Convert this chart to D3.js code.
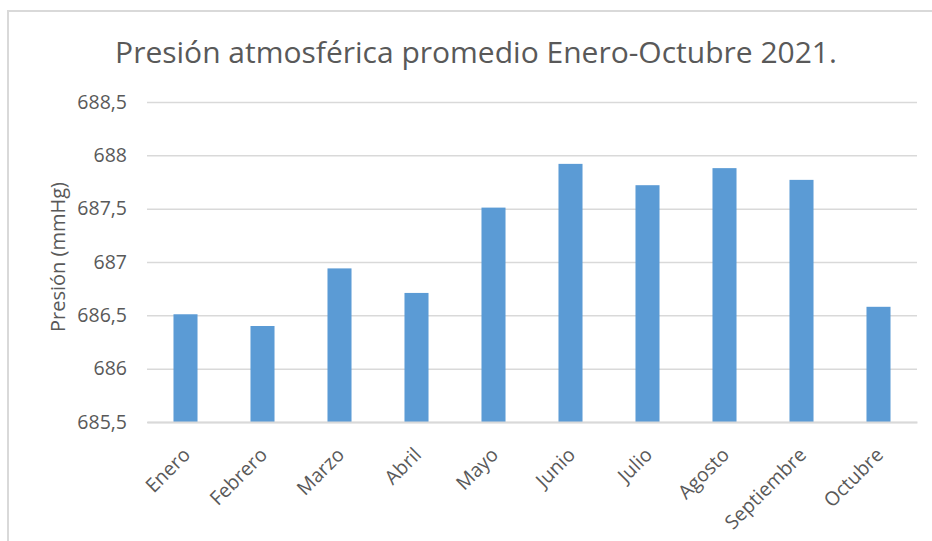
<!DOCTYPE html>
<html>
<head>
<meta charset="utf-8">
<script src="https://cdn.jsdelivr.net/npm/d3@7"></script>
<style>
  html, body { margin: 0; padding: 0; background: #fff; }
  svg { display: block; }
  text { font-family: "Open Sans", "Noto Sans", sans-serif; }
</style>
</head>
<body>
<svg id="chart" width="932" height="541"></svg>
<script>
const months = ["Enero", "Febrero", "Marzo", "Abril", "Mayo", "Junio", "Julio", "Agosto", "Septiembre", "Octubre"];
const pressure = [686.51, 686.40, 686.94, 686.71, 687.51, 687.92, 687.72, 687.88, 687.77, 686.58];
const yTicks = [685.5, 686, 686.5, 687, 687.5, 688, 688.5];
const yTickLabels = ["685,5", "686", "686,5", "687", "687,5", "688", "688,5"];
const titleText = "Presión atmosférica promedio Enero-Octubre 2021.";
const yAxisTitle = "Presión (mmHg)";

const svg = d3.select("#chart");
const W = 932, H = 541;
const plot = { left: 147, right: 917, top: 102, bottom: 422 };

// chart frame
svg.append("rect")
  .attr("x", 8).attr("y", 11)
  .attr("width", W + 10).attr("height", H + 10)
  .attr("fill", "#fff")
  .attr("stroke", "#d9d9d9").attr("stroke-width", 2);

const x = d3.scaleBand()
  .domain(months)
  .range([plot.left, plot.right])
  .paddingInner(0.688)
  .paddingOuter(0.344);

const y = d3.scaleLinear()
  .domain([yTicks[0], yTicks[yTicks.length - 1]])
  .range([plot.bottom, plot.top]);

// gridlines + y labels via axis
const yAxis = d3.axisLeft(y)
  .tickValues(yTicks)
  .tickSize(-(plot.right - plot.left))
  .tickPadding(20)
  .tickFormat((d, i) => yTickLabels[i]);

const gy = svg.append("g")
  .attr("transform", `translate(${plot.left},0)`)
  .call(yAxis);
gy.select(".domain").remove();
gy.selectAll(".tick line").attr("stroke", "#d9d9d9").attr("stroke-width", 1.5);
gy.selectAll(".tick text")
  .attr("fill", "#595959")
  .attr("font-size", 19.5)
  .attr("x", 127 - plot.left);

// bars
svg.append("g").selectAll("rect")
  .data(months.map((m, i) => ({ m, v: pressure[i] })))
  .join("rect")
  .attr("x", d => x(d.m))
  .attr("width", x.bandwidth())
  .attr("y", d => y(d.v))
  .attr("height", d => y(yTicks[0]) - y(d.v))
  .attr("fill", "#5b9bd5");

// x axis line
const xAxis = d3.axisBottom(x).tickSize(0).tickPadding(0);
const gx = svg.append("g")
  .attr("transform", `translate(0,${plot.bottom})`)
  .call(xAxis);
gx.select(".domain").attr("stroke", "#d9d9d9").attr("stroke-width", 2);
gx.selectAll(".tick text")
  .attr("fill", "#595959")
  .attr("font-size", 19.5)
  .attr("text-anchor", "end")
  .attr("dy", 0)
  .attr("y", 0)
  .attr("transform", "translate(6,34) rotate(-45)");

// title
svg.append("text")
  .attr("x", 476).attr("y", 63)
  .attr("text-anchor", "middle")
  .attr("fill", "#595959")
  .attr("font-size", 30)
  .text(titleText);

// y axis title
svg.append("text")
  .attr("transform", "translate(65,257) rotate(-90)")
  .attr("text-anchor", "middle")
  .attr("fill", "#595959")
  .attr("font-size", 20)
  .text(yAxisTitle);
</script>
</body>
</html>
